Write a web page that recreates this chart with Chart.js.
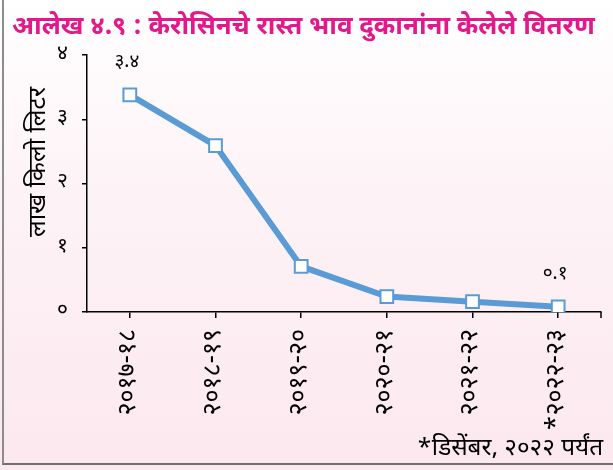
<!DOCTYPE html>
<html><head><meta charset="utf-8">
<script src="https://cdn.jsdelivr.net/npm/chart.js@4.4.0/dist/chart.umd.min.js"></script>
<style>
html,body{margin:0;padding:0;background:#fff;}
#wrap{position:relative;width:613px;height:470px;background:linear-gradient(#ffffff 0%,#fdf3f7 40%,#fce8ef 100%);overflow:hidden;}
#frame{position:absolute;left:2px;top:0;width:611px;height:465px;border-left:2px solid #8c8c8c;border-bottom:2px solid #707070;box-sizing:border-box;}
canvas{position:absolute;left:0;top:0;display:block;}
</style></head>
<body><div id="wrap"><div id="frame"></div><canvas id="c" width="613" height="470"></canvas></div>
<script>
const categories = ['२०१७-१८','२०१८-१९','२०१९-२०','२०२०-२१','२०२१-२२','*२०२२-२३'];
const kerosene = [3.38, 2.59, 0.71, 0.24, 0.16, 0.08];
const labeledPoints = [0, 5];
const titleText = 'आलेख ४.९ : केरोसिनचे रास्त भाव दुकानांना केलेले वितरण';
const yAxisTitle = 'लाख किलो लिटर';
const footnote = '*डिसेंबर, २०२२ पर्यंत';

const DEVA = "'Noto Sans Devanagari','Noto Serif Devanagari','Lohit Devanagari','Noto Sans',sans-serif";
const devDigits = '०१२३४५६७८९';
function toDev(s){ return String(s).replace(/[0-9]/g, d => devDigits[+d]); }

function fitFont(ctx, text, weight, width){
  ctx.font = weight + '20px ' + DEVA;
  const w = ctx.measureText(text).width;
  return weight + (20 * width / w).toFixed(2) + 'px ' + DEVA;
}

const decor = {
  id: 'decor',
  afterDraw(chart){
    const ctx = chart.ctx, ca = chart.chartArea;
    ctx.save();
    // title, fitted to width
    ctx.font = fitFont(ctx, titleText, 'bold ', 583);
    ctx.fillStyle = '#e2198a';
    ctx.textAlign = 'left';
    ctx.textBaseline = 'alphabetic';
    ctx.fillText(titleText, 12, 34);
    // y axis title
    ctx.save();
    ctx.translate(40, 162);
    ctx.rotate(-Math.PI/2);
    ctx.font = fitFont(ctx, yAxisTitle, '', 150);
    ctx.fillStyle = '#000';
    ctx.textAlign = 'center';
    ctx.textBaseline = 'middle';
    ctx.fillText(yAxisTitle, 0, 0);
    ctx.restore();
    // footnote
    ctx.font = fitFont(ctx, footnote, '', 186);
    ctx.fillStyle = '#000';
    ctx.textAlign = 'right';
    ctx.textBaseline = 'alphabetic';
    ctx.fillText(footnote, 603, 455);
    // end tick on x axis
    ctx.strokeStyle = '#000';
    ctx.lineWidth = 1.5;
    ctx.beginPath();
    ctx.moveTo(ca.right, ca.bottom);
    ctx.lineTo(ca.right, ca.bottom + 6);
    ctx.stroke();
    // data labels
    const meta = chart.getDatasetMeta(0);
    ctx.font = '19px ' + DEVA;
    ctx.textAlign = 'center';
    ctx.textBaseline = 'middle';
    labeledPoints.forEach(i => {
      const p = meta.data[i];
      ctx.fillText(toDev(kerosene[i].toFixed(1)), p.x - 3, p.y - 31);
    });
    ctx.restore();
  }
};

new Chart(document.getElementById('c'), {
  type: 'line',
  data: {
    labels: categories,
    datasets: [{
      data: kerosene,
      borderColor: '#5b9bd5',
      borderWidth: 6,
      tension: 0,
      pointStyle: 'rect',
      pointRadius: 9,
      pointBackgroundColor: '#ffffff',
      pointBorderColor: '#5b9bd5',
      pointBorderWidth: 2
    }]
  },
  options: {
    responsive: false,
    animation: false,
    layout: { padding: { top: 55, right: 12, left: 0, bottom: 0 } },
    plugins: { legend: { display: false }, title: { display: false }, tooltip: { enabled: false } },
    scales: {
      x: {
        offset: true,
        grid: { display: true, drawOnChartArea: false, tickLength: 6, color: '#000', lineWidth: 1.5, offset: false },
        border: { color: '#000', width: 1.5 },
        ticks: { minRotation: 90, maxRotation: 90, color: '#000', padding: 11, font: { size: 25, family: DEVA } },
        afterFit(s){ s.height = 158; }
      },
      y: {
        min: 0, max: 4,
        grid: { display: true, drawOnChartArea: false, tickLength: 5, color: '#000', lineWidth: 1.5 },
        border: { color: '#000', width: 1.5 },
        ticks: { stepSize: 1, color: '#000', padding: 14, font: { size: 21, family: DEVA }, callback: v => toDev(v) },
        afterFit(s){ s.width = 87; }
      }
    }
  },
  plugins: [decor]
});
</script>
</body></html>
